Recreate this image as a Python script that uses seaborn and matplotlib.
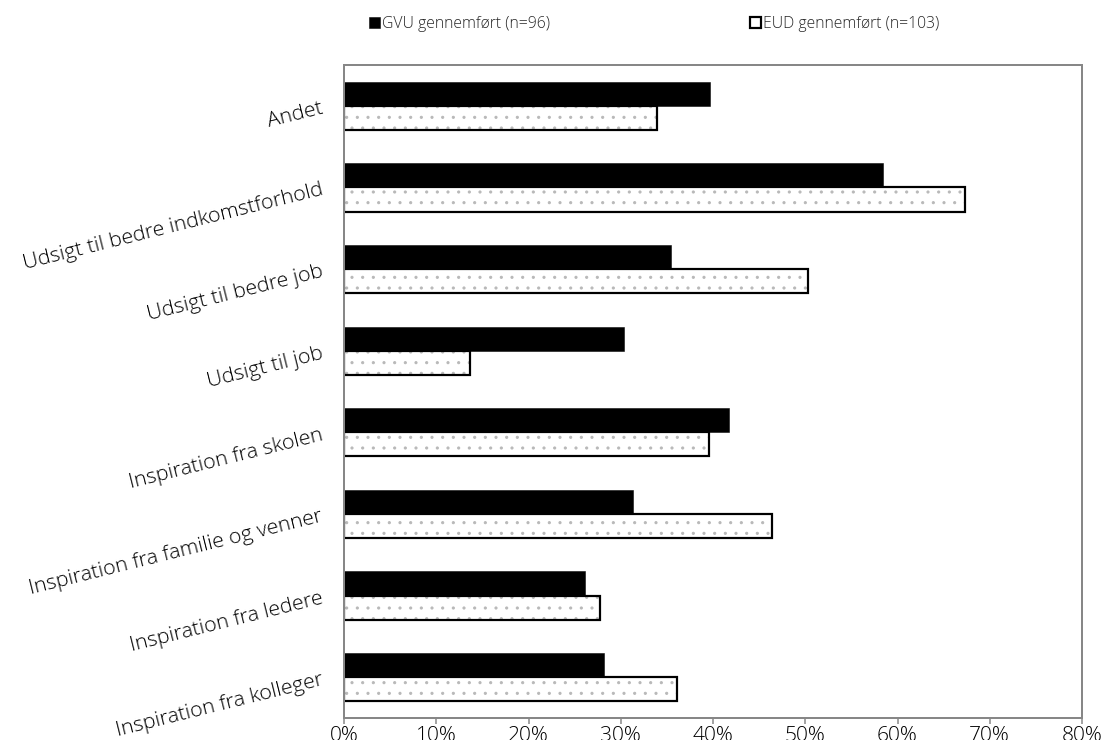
import matplotlib
matplotlib.use('Agg')
import matplotlib.pyplot as plt
import matplotlib.colors as mcolors
from matplotlib.patches import Patch
import seaborn as sns
import pandas as pd

categories = ["Andet", "Udsigt til bedre indkomstforhold", "Udsigt til bedre job",
              "Udsigt til job", "Inspiration fra skolen",
              "Inspiration fra familie og venner", "Inspiration fra ledere",
              "Inspiration fra kolleger"]
gvu = [39.7, 58.4, 35.5, 30.3, 41.7, 31.3, 26.1, 28.2]
eud = [33.9, 67.3, 50.3, 13.7, 39.6, 46.4, 27.8, 36.1]
series = ["GVU gennemført (n=96)", "EUD gennemført (n=103)"]
x_ticks = [0, 10, 20, 30, 40, 50, 60, 70, 80]
x_tick_labels = ["0%", "10%", "20%", "30%", "40%", "50%", "60%", "70%", "80%"]

DPI = 64
W, H = 1109, 740


def px(v):
    return v * 72.0 / DPI


sns.set_theme(style="white")
plt.rcParams['font.family'] = ['Open Sans', 'DejaVu Sans']
plt.rcParams['font.weight'] = 'light'
plt.rcParams['hatch.linewidth'] = px(1.0)

fig = plt.figure(figsize=(W / DPI, H / DPI), dpi=DPI)
fig.patch.set_facecolor('white')
ax = fig.add_axes([344 / W, 1 - 718 / H, (1082 - 344) / W, (718 - 65) / H])

df = pd.DataFrame({
    'Kategori': categories * 2,
    'Andel': gvu + eud,
    'Gruppe': [series[0]] * len(categories) + [series[1]] * len(categories),
})

sns.barplot(data=df, y='Kategori', x='Andel', hue='Gruppe', order=categories,
            hue_order=series, palette=['black', 'white'], width=0.59,
            orient='h', ax=ax, legend=False, errorbar=None, saturation=1)

grey_dot = mcolors.to_rgba('#b8b8b8')
for p in ax.containers[0]:
    p.set_facecolor('black')
    p.set_edgecolor('black')
    p.set_linewidth(px(0.5))
for p in ax.containers[1]:
    p.set_facecolor('white')
    p.set_edgecolor('black')
    p.set_linewidth(px(2.2))
    p.set_hatch('.')
    p._hatch_color = grey_dot

ax.set_xlim(0, 80)
ax.set_xticks(x_ticks)
ax.set_xticklabels(x_tick_labels)
ax.set_xlabel('')
ax.set_ylabel('')

frame_col = '#878787'
for s in ax.spines.values():
    s.set_visible(True)
    s.set_color(frame_col)
    s.set_linewidth(px(2))

ax.tick_params(axis='x', bottom=True, length=px(6), width=px(1.5), color=frame_col,
               direction='out', pad=px(2), labelsize=px(21), labelcolor='black')
ax.tick_params(axis='y', left=False, length=0, pad=px(22), labelsize=px(21.2),
               labelcolor='black')
for lbl in ax.get_yticklabels():
    lbl.set_rotation(14)
    lbl.set_ha('right')
    lbl.set_va('center_baseline')
    lbl.set_rotation_mode('anchor')

handles = [Patch(facecolor='black', edgecolor='black', linewidth=px(0.5)),
           Patch(facecolor='white', edgecolor='black', linewidth=px(2.2))]
fig.legend(handles, series, loc='center left', bbox_to_anchor=(369 / W, 1 - 24 / H),
           ncol=2, frameon=False, fontsize=px(15.8), handlelength=0.7,
           handleheight=0.7, handletextpad=0.15, columnspacing=12.62,
           borderpad=0, borderaxespad=0)

fig.savefig('out.png', dpi=DPI, facecolor='white')
